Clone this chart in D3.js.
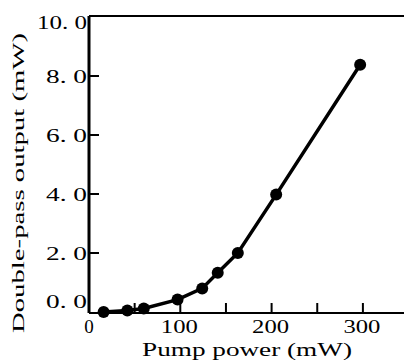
<!DOCTYPE html>
<html>
<head>
<meta charset="utf-8">
<script src="https://cdn.jsdelivr.net/npm/d3@7"></script>
<style>
  body { margin: 0; background: #fff; }
</style>
</head>
<body>
<div id="chart"></div>
<script>
// pump power (mW) vs double-pass output (mW)
const pumpPower = [16, 42, 60, 97, 124, 141, 163, 205, 297]
const output = [0.0, 0.05, 0.12, 0.42, 0.8, 1.33, 2.0, 3.98, 8.38]
const xTicks = [0, 50, 100, 150, 200, 250, 300, 350]
const xLabels = [0, 100, 200, 300]
const yTicks = [0, 2, 4, 6, 8, 10]
const yLabels = ['0. 0', '2. 0', '4. 0', '6. 0', '8. 0', '10. 0']

const width = 404
const height = 360

const svg = d3
  .select('#chart')
  .append('svg')
  .attr('width', width)
  .attr('height', height)
  .style('font-family', "'Liberation Serif', 'Times New Roman', serif")

var x = d3
  .scaleLinear()
  .domain([0, 350])
  .range([89, 89 + 350 * 0.913])

var y = d3
  .scaleLinear()
  .domain([0, 10])
  .range([312, 17])

// frame: left axis, bottom axis, top border
svg
  .append('line')
  .attr('x1', x(0))
  .attr('x2', x(0))
  .attr('y1', y(10) - 1)
  .attr('y2', y(0) + 1)
  .attr('stroke', '#000')
  .attr('stroke-width', 3)
svg
  .append('line')
  .attr('x1', x(0))
  .attr('x2', width)
  .attr('y1', y(0) + 1)
  .attr('y2', y(0) + 1)
  .attr('stroke', '#000')
  .attr('stroke-width', 2)
svg
  .append('line')
  .attr('x1', x(0))
  .attr('x2', width)
  .attr('y1', y(10) - 1)
  .attr('y2', y(10) - 1)
  .attr('stroke', '#000')
  .attr('stroke-width', 2)

// x ticks (inward)
svg
  .selectAll('.xtick')
  .data(xTicks.slice(1))
  .enter()
  .append('line')
  .attr('x1', d => x(d))
  .attr('x2', d => x(d))
  .attr('y1', y(0))
  .attr('y2', y(0) - 9)
  .attr('stroke', '#000')
  .attr('stroke-width', 2)

svg
  .selectAll('.xlab')
  .data(xLabels)
  .enter()
  .append('text')
  .attr('x', d => x(d) - (d === 0 ? 0 : 1))
  .attr('y', 333)
  .attr('text-anchor', 'middle')
  .attr('font-size', 19)
  .attr('textLength', d => (d === 0 ? null : 37))
  .attr('lengthAdjust', 'spacingAndGlyphs')
  .text(d => d)

// y ticks (inward)
svg
  .selectAll('.ytick')
  .data(yTicks.slice(1, -1))
  .enter()
  .append('line')
  .attr('x1', x(0))
  .attr('x2', x(0) + 10)
  .attr('y1', d => y(d))
  .attr('y2', d => y(d))
  .attr('stroke', '#000')
  .attr('stroke-width', 2)

svg
  .selectAll('.ylab')
  .data(yTicks)
  .enter()
  .append('text')
  .attr('x', 87)
  .attr('y', d => y(d) + 7 + (d === 0 ? -11 : 0) + (d === 10 ? 5 : 0))
  .attr('text-anchor', 'end')
  .attr('font-size', 19)
  .attr('textLength', (d, i) => (yLabels[i].length > 4 ? 50 : 41))
  .attr('lengthAdjust', 'spacingAndGlyphs')
  .text((d, i) => yLabels[i])

// axis titles
svg
  .append('text')
  .attr('transform', 'translate(24,183)rotate(-90)')
  .attr('text-anchor', 'middle')
  .attr('font-size', 17)
  .attr('textLength', 300)
  .attr('lengthAdjust', 'spacingAndGlyphs')
  .text('Double-pass output (mW)')

svg
  .append('text')
  .attr('x', 247)
  .attr('y', 356)
  .attr('text-anchor', 'middle')
  .attr('font-size', 19)
  .attr('textLength', 210)
  .attr('lengthAdjust', 'spacingAndGlyphs')
  .text('Pump power (mW)')

// data line + markers
const data = pumpPower.map((p, i) => ({ p: p, v: output[i] }))

svg
  .append('path')
  .datum(data)
  .attr('fill', 'none')
  .attr('stroke', '#000')
  .attr('stroke-width', 3.5)
  .attr('d', d3.line().x(d => x(d.p)).y(d => y(d.v)))

svg
  .selectAll('.pt')
  .data(data)
  .enter()
  .append('circle')
  .attr('cx', d => x(d.p))
  .attr('cy', d => y(d.v))
  .attr('r', 6)
  .attr('fill', '#000')
</script>
</body>
</html>
